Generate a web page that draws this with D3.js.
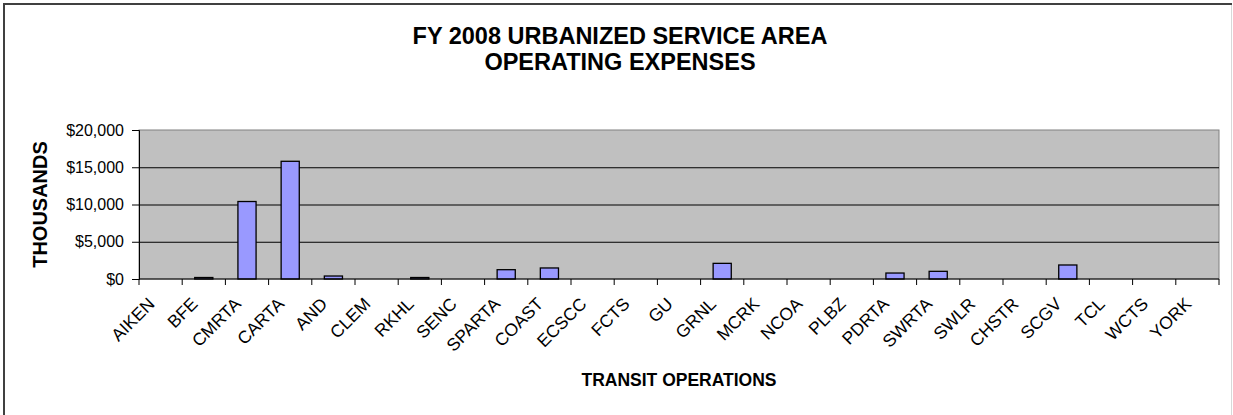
<!DOCTYPE html>
<html>
<head>
<meta charset="utf-8">
<script src="https://cdn.jsdelivr.net/npm/d3@7"></script>
<style>
  body { margin: 0; background: #fff; }
  text { font-family: "Liberation Sans", Arial, sans-serif; }
</style>
</head>
<body>
<div id="chart"></div>
<script>
// transit operators, in chart order
const operators = ["AIKEN", "BFE", "CMRTA", "CARTA", "AND", "CLEM", "RKHL", "SENC", "SPARTA",
  "COAST", "ECSCC", "FCTS", "GU", "GRNL", "MCRK", "NCOA", "PLBZ", "PDRTA", "SWRTA", "SWLR",
  "CHSTR", "SCGV", "TCL", "WCTS", "YORK"];
// operating expenses, thousands of dollars
const expenses = [0, 200, 10400, 15800, 400, 0, 200, 0, 1250, 1480, 0, 0, 0, 2100, 0, 0, 0,
  800, 1030, 0, 0, 1880, 0, 0, 0];
const yTicks = [0, 5000, 10000, 15000, 20000];
const titleLines = ["FY 2008 URBANIZED SERVICE AREA", "OPERATING EXPENSES"];

const W = 1233, H = 415;
const m = {top: 130, right: 14, bottom: 136, left: 139};

const svg = d3.select("#chart").append("svg")
    .attr("width", W).attr("height", H);

// outer chart frame: dark on top/left, pale on the right
svg.append("line").attr("x1", 4).attr("x2", 4).attr("y1", 3).attr("y2", H)
    .attr("stroke", "#404040").attr("stroke-width", 2);
svg.append("line").attr("x1", 3).attr("x2", W - 1).attr("y1", 4).attr("y2", 4)
    .attr("stroke", "#404040").attr("stroke-width", 2);
svg.append("line").attr("x1", W - 1.5).attr("x2", W - 1.5).attr("y1", 5).attr("y2", H)
    .attr("stroke", "#d8d8d8").attr("stroke-width", 1);

const x = d3.scaleBand().domain(operators).range([m.left, W - m.right]).paddingInner(0);
const y = d3.scaleLinear().domain([0, 20000]).range([H - m.bottom, m.top]);

// plot area
svg.append("rect")
    .attr("x", m.left).attr("y", m.top)
    .attr("width", W - m.right - m.left).attr("height", H - m.bottom - m.top)
    .attr("fill", "#c0c0c0").attr("stroke", "#808080");

// gridlines
svg.append("g").selectAll("line").data(yTicks.slice(1, -1)).join("line")
    .attr("x1", m.left).attr("x2", W - m.right)
    .attr("y1", d => y(d) + 0.5).attr("y2", d => y(d) + 0.5)
    .attr("stroke", "#000");

// bars
const bw = x.bandwidth() * 0.42;
svg.append("g").selectAll("rect").data(operators).join("rect")
    .attr("x", (d, i) => x(d) + (x.bandwidth() - bw) / 2)
    .attr("y", (d, i) => y(expenses[i]))
    .attr("width", bw)
    .attr("height", (d, i) => y(0) - y(expenses[i]))
    .attr("fill", "#9999ff").attr("stroke", "#000").attr("stroke-width", 1.3);

// y axis
const yAxis = svg.append("g")
    .attr("transform", `translate(${m.left},0)`)
    .call(d3.axisLeft(y).tickValues(yTicks).tickSize(7).tickPadding(8)
      .tickFormat(d => "$" + d3.format(",")(d)));
yAxis.select(".domain").attr("stroke", "#000");
yAxis.selectAll(".tick line").attr("stroke", "#000");
yAxis.selectAll("text").attr("font-size", 16).attr("fill", "#000")
    .attr("font-family", "'Liberation Sans', Arial, sans-serif");

// x axis, ticks on category boundaries
const xAxis = svg.append("g").attr("transform", `translate(0,${y(0)})`);
xAxis.append("line").attr("x1", m.left).attr("x2", W - m.right)
    .attr("stroke", "#000");
xAxis.selectAll("line.tk").data(operators.concat([null])).join("line").attr("class", "tk")
    .attr("x1", (d, i) => m.left + i * x.step()).attr("x2", (d, i) => m.left + i * x.step())
    .attr("y1", 0).attr("y2", 6).attr("stroke", "#000");
xAxis.selectAll("text").data(operators).join("text")
    .attr("transform", d => `translate(${x(d) + x.bandwidth() / 2 - 5},26) rotate(-45)`)
    .attr("text-anchor", "end")
    .attr("font-size", 17.5)
    .text(d => d);

// titles
svg.append("g").selectAll("text").data(titleLines).join("text")
    .attr("x", 620).attr("y", (d, i) => 44 + i * 26)
    .attr("text-anchor", "middle").attr("font-size", 23.5).attr("font-weight", "bold")
    .text(d => d);

svg.append("text")
    .attr("transform", `translate(47,${(m.top + H - m.bottom) / 2}) rotate(-90)`)
    .attr("text-anchor", "middle").attr("font-size", 20).attr("font-weight", "bold")
    .text("THOUSANDS");

svg.append("text")
    .attr("x", (m.left + W - m.right) / 2).attr("y", 386)
    .attr("text-anchor", "middle").attr("font-size", 17.5).attr("font-weight", "bold")
    .text("TRANSIT OPERATIONS");
</script>
</body>
</html>
